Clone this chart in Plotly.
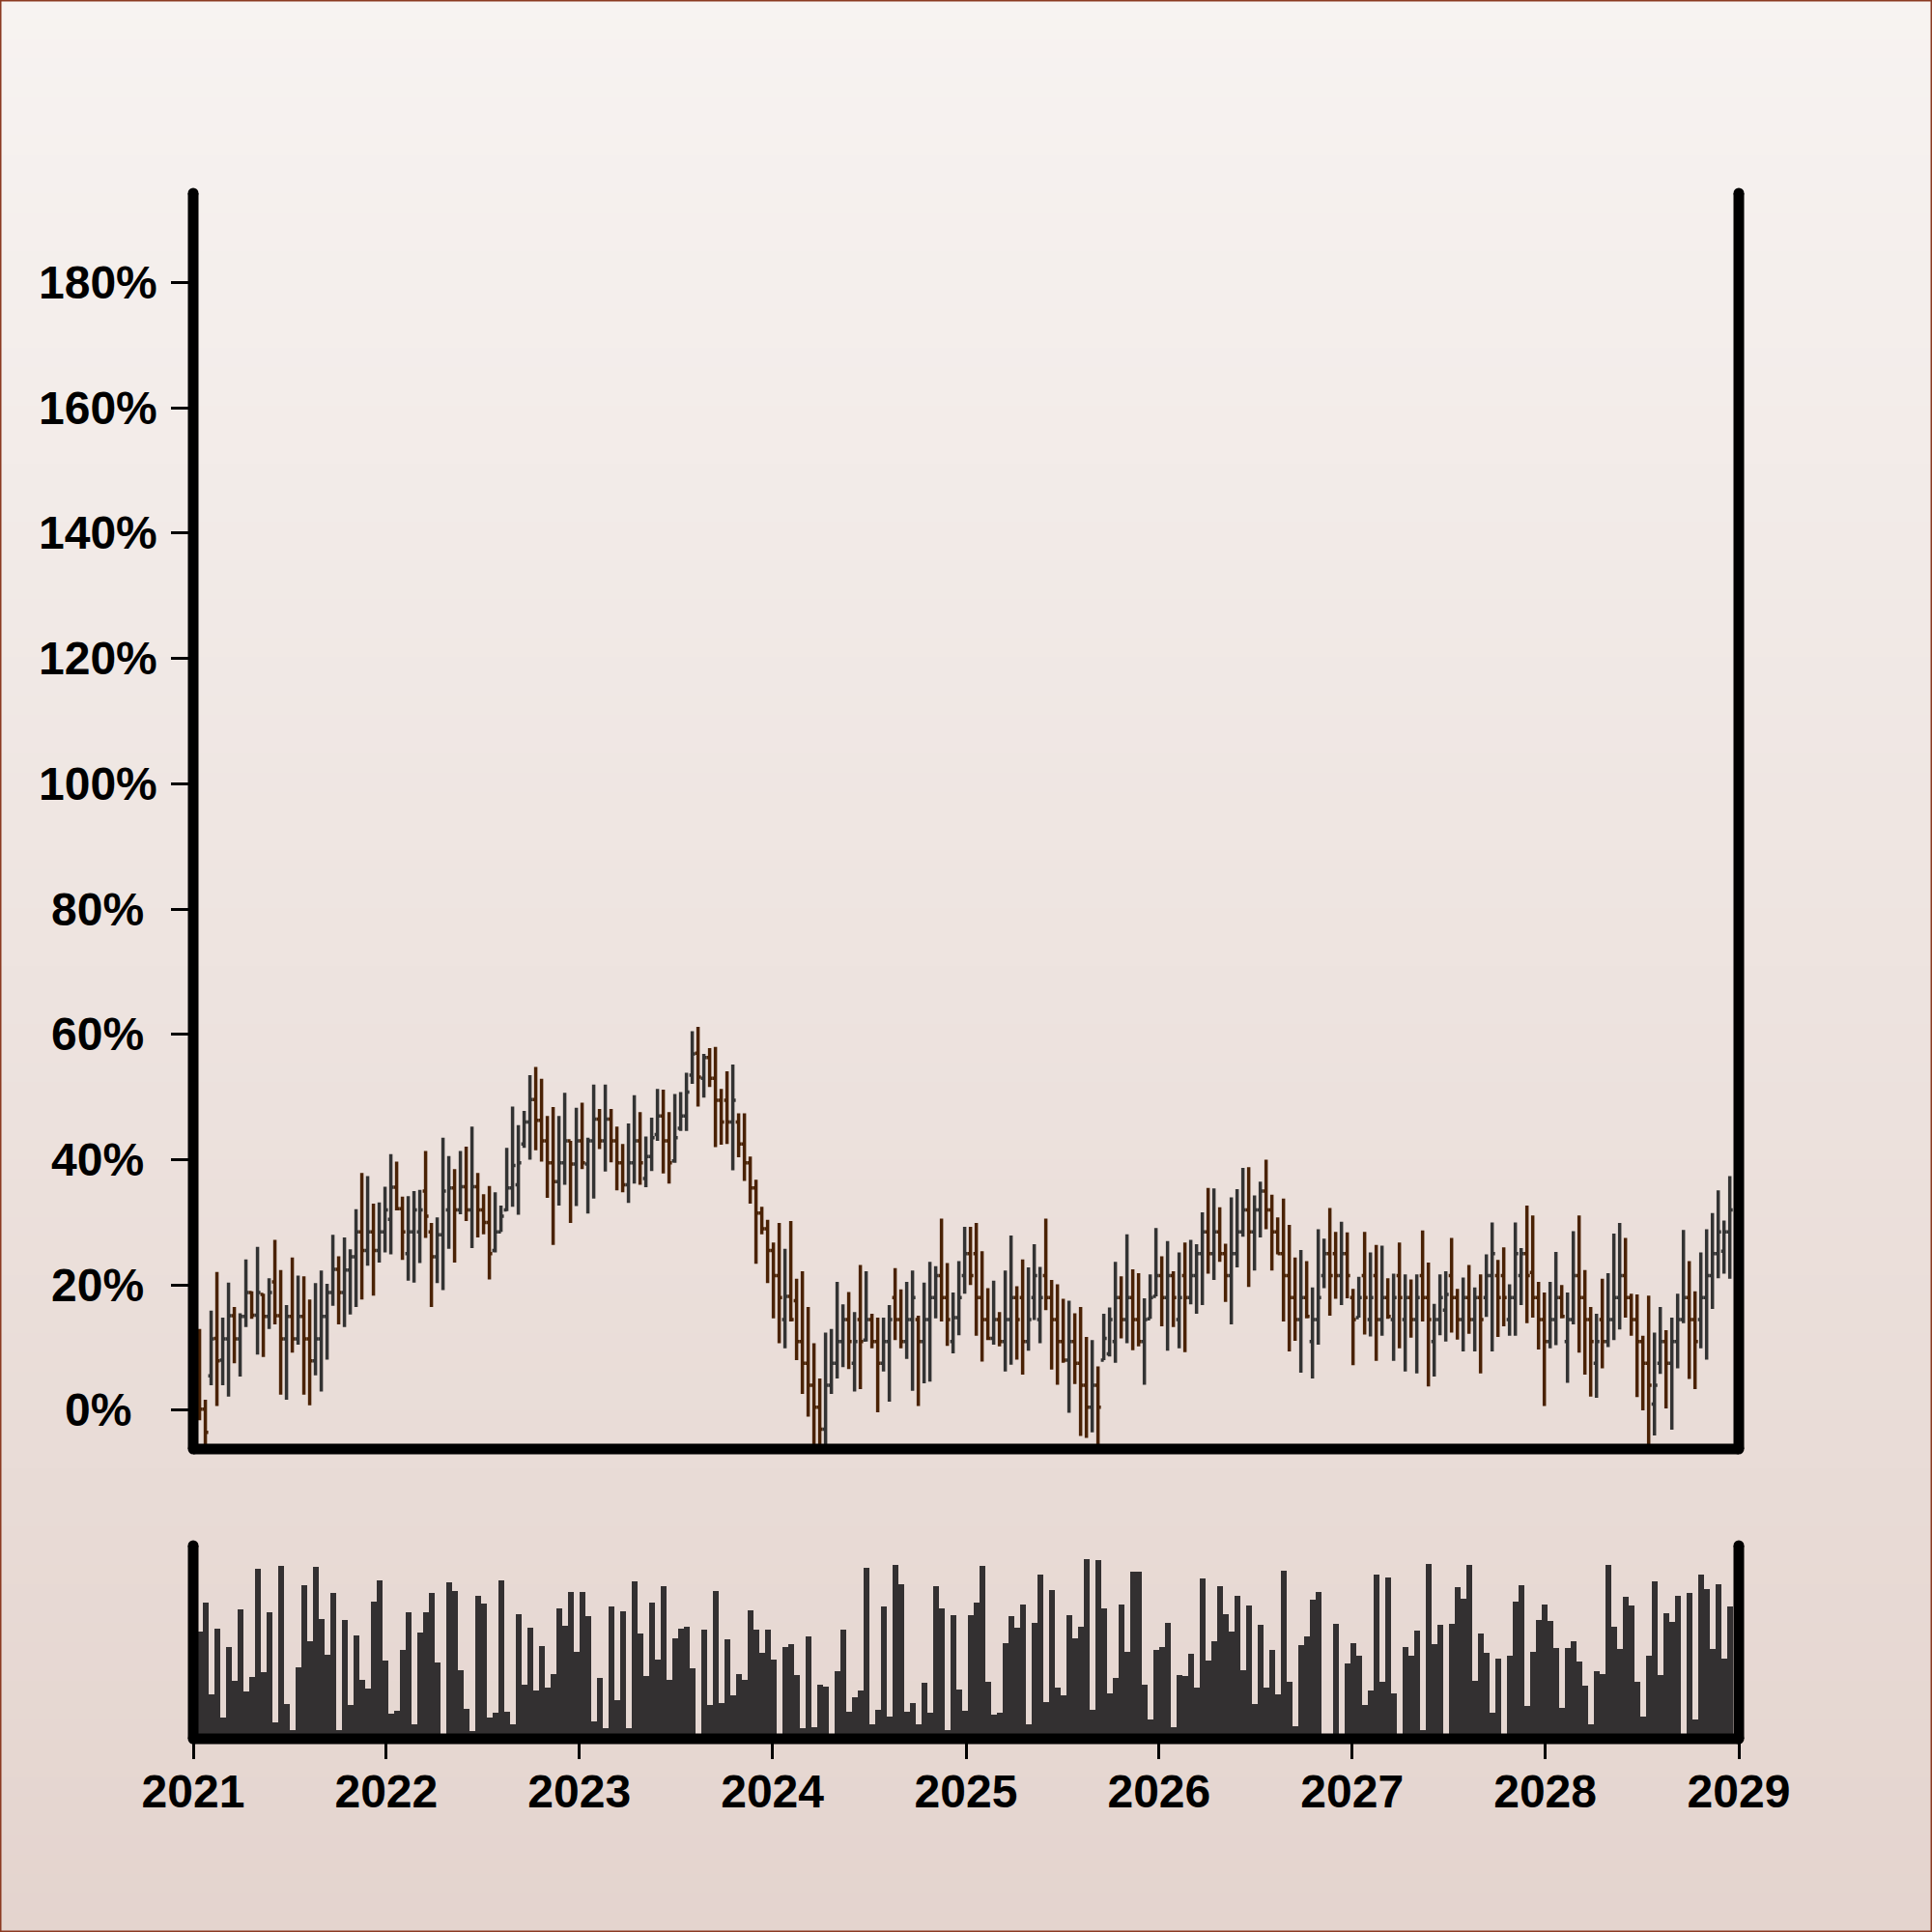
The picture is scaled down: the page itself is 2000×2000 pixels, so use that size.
import plotly.graph_objects as go
import pandas as pd

# ---------------- data ----------------
N_BARS = 265
dates = pd.date_range("2021-01-13", "2028-12-15", periods=N_BARS)

open_pct = [10.5, 0.2, 5.5, 11.5, 8.0, 11.4, 15.1, 11.4, 15.0, 18.8,
            15.2, 18.5, 15.0, 20.5, 15.1, 11.4, 15.0, 11.4, 15.0, 11.4,
            7.9, 11.4, 15.0, 18.8, 22.5, 18.8, 22.4, 24.5, 28.5, 25.5,
            28.5, 25.5, 28.5, 30.5, 35.6, 32.2, 25.0, 28.5, 28.5, 35.0,
            28.5, 24.5, 28.0, 32.0, 35.5, 32.0, 35.7, 32.0, 35.7, 32.0,
            30.0, 25.5, 28.5, 32.0, 35.5, 36.0, 42.5, 46.0, 49.6, 46.3,
            43.0, 39.5, 36.5, 39.5, 43.0, 39.3, 43.0, 39.3, 43.0, 46.5,
            43.0, 46.5, 43.0, 39.5, 36.0, 39.5, 43.0, 37.0, 40.5, 44.0,
            47.0, 43.0, 39.8, 45.0, 47.0, 53.5, 57.0, 53.0, 56.3, 53.0,
            49.5, 49.5, 46.0, 46.0, 42.5, 39.5, 35.5, 31.5, 29.0, 25.5,
            21.5, 14.5, 18.2, 17.5, 11.0, 7.5, 4.0, 0.5, -3.0, 4.0,
            7.5, 11.0, 14.5, 7.5, 14.5, 11.2, 14.5, 11.0, 7.5, 11.0,
            18.0, 14.5, 11.0, 14.5, 14.5, 11.0, 14.5, 18.0, 21.5, 18.0,
            11.0, 14.8, 21.5, 25.0, 25.0, 18.0, 14.5, 11.5, 14.5, 11.0,
            14.5, 18.0, 18.0, 11.0, 18.0, 14.5, 21.5, 18.0, 14.5, 11.0,
            8.0, 11.0, 7.5, 4.0, 0.5, 4.0, 8.0, 9.0, 11.0, 18.0,
            14.5, 18.0, 14.5, 11.0, 14.6, 18.2, 21.5, 18.0, 21.5, 14.5,
            21.5, 18.0, 21.5, 25.0, 28.5, 25.0, 28.5, 25.0, 21.5, 25.0,
            28.5, 32.0, 28.5, 32.0, 35.0, 32.0, 28.5, 25.0, 21.5, 18.0,
            14.5, 18.0, 11.0, 14.5, 21.5, 25.0, 25.0, 21.5, 25.0, 18.0,
            14.8, 21.5, 14.5, 21.5, 14.5, 18.0, 14.5, 21.5, 14.5, 18.0,
            14.5, 21.5, 18.0, 11.0, 14.5, 16.0, 21.5, 18.0, 14.5, 18.0,
            14.5, 18.0, 18.0, 21.5, 21.5, 21.5, 14.5, 18.0, 21.5, 25.0,
            22.0, 18.0, 14.5, 11.0, 14.5, 18.0, 11.0, 14.5, 21.5, 18.0,
            14.5, 7.5, 14.5, 11.0, 14.5, 18.0, 21.5, 18.0, 14.5, 11.0,
            7.5, 1.0, 7.5, 11.0, 7.5, 11.0, 14.5, 18.0, 14.5, 14.5,
            18.0, 21.5, 25.0, 25.4, 28.5]

high_pct = [13.0, 1.7, 15.9, 22.1, 14.8, 20.4, 16.5, 15.5, 24.1, 19.0,
            26.1, 18.6, 21.1, 27.2, 22.4, 16.8, 24.4, 21.5, 21.4, 17.7,
            20.3, 22.3, 20.2, 28.0, 24.6, 27.6, 25.7, 32.1, 37.9, 37.4,
            33.0, 33.2, 35.7, 40.9, 39.7, 34.1, 34.2, 35.0, 35.2, 41.4,
            29.9, 30.8, 43.5, 40.6, 38.5, 41.4, 42.1, 45.3, 37.9, 34.5,
            35.8, 34.8, 32.7, 41.9, 48.5, 45.5, 47.8, 53.5, 54.8, 52.9,
            47.0, 48.4, 47.0, 50.7, 43.0, 48.3, 49.1, 43.5, 52.0, 48.1,
            52.0, 48.1, 45.3, 42.5, 45.8, 50.3, 47.6, 43.7, 46.7, 51.3,
            51.2, 47.6, 50.5, 50.8, 53.9, 60.5, 61.2, 56.9, 57.8, 58.0,
            51.3, 54.1, 55.2, 47.4, 47.4, 40.5, 36.8, 32.5, 30.4, 26.8,
            29.9, 25.8, 30.2, 21.0, 22.2, 16.5, 10.7, 5.1, 12.4, 13.0,
            20.5, 16.9, 18.9, 15.7, 23.2, 22.2, 15.4, 14.8, 14.8, 16.8,
            22.7, 19.3, 20.5, 22.3, 15.1, 20.4, 23.7, 23.0, 30.6, 23.5,
            18.8, 23.8, 29.3, 29.3, 29.9, 25.4, 19.5, 20.7, 15.7, 22.3,
            27.9, 19.8, 24.1, 22.8, 26.5, 22.9, 30.6, 20.8, 20.1, 17.8,
            17.5, 15.5, 16.5, 11.7, 11.2, 7.0, 15.4, 16.4, 23.7, 21.4,
            28.1, 22.5, 21.9, 17.9, 21.7, 29.1, 24.6, 27.0, 22.2, 25.2,
            26.8, 27.2, 26.5, 31.6, 35.5, 35.4, 32.4, 26.6, 34.0, 35.3,
            38.7, 38.8, 34.3, 36.5, 40.0, 34.4, 30.8, 33.8, 29.6, 24.4,
            25.6, 23.8, 19.6, 28.9, 27.4, 32.3, 28.5, 30.1, 28.4, 19.4,
            21.3, 28.5, 25.2, 26.4, 26.3, 21.1, 21.8, 26.8, 21.7, 20.9,
            21.7, 28.7, 23.6, 17.0, 21.7, 22.2, 27.5, 19.4, 21.2, 23.2,
            19.6, 21.7, 24.9, 30.0, 24.0, 26.0, 20.1, 30.0, 25.9, 32.7,
            31.1, 20.5, 18.8, 20.5, 25.3, 20.0, 18.8, 28.6, 31.1, 22.4,
            16.5, 15.4, 21.0, 21.9, 28.2, 29.9, 27.5, 18.6, 18.5, 11.9,
            18.3, 12.4, 16.5, 12.8, 14.8, 18.6, 28.8, 23.8, 19.0, 25.2,
            28.9, 31.5, 35.1, 30.3, 37.4]

low_pct = [-1.6, -6.5, 4.0, 0.7, 4.0, 2.2, 7.5, 5.4, 13.3, 14.6,
           8.9, 8.5, 13.0, 13.7, 2.5, 1.7, 9.2, 10.5, 2.5, 0.8,
           5.6, 3.0, 8.1, 16.7, 13.7, 13.3, 15.3, 16.5, 17.7, 23.1,
           18.3, 23.6, 25.2, 24.9, 31.9, 24.0, 20.7, 20.4, 23.5, 27.5,
           16.5, 20.3, 19.2, 25.8, 23.6, 31.3, 30.2, 25.9, 27.6, 28.1,
           20.9, 25.2, 28.5, 31.8, 32.5, 31.2, 41.9, 40.0, 41.5, 39.7,
           33.9, 26.4, 32.7, 36.0, 29.9, 32.6, 38.5, 31.4, 33.8, 41.7,
           38.1, 39.6, 35.1, 34.8, 33.1, 36.2, 36.0, 35.6, 38.2, 43.0,
           37.8, 36.2, 39.5, 44.6, 44.6, 52.1, 48.5, 49.9, 51.6, 42.0,
           42.4, 42.5, 38.3, 40.4, 36.6, 33.0, 23.4, 28.1, 20.3, 14.7,
           10.7, 9.9, 14.2, 8.0, 2.6, -1.0, -7.0, -7.5, -5.5, 2.6,
           5.1, 6.9, 6.6, 3.0, 3.4, 11.0, 9.9, -0.3, 6.2, 1.4,
           11.2, 9.9, 8.2, 3.1, 0.7, 4.3, 4.6, 14.7, 14.2, 10.3,
           9.1, 12.0, 18.6, 20.0, 11.9, 7.8, 11.2, 10.5, 10.2, 6.2,
           7.3, 8.1, 5.7, 9.5, 14.4, 10.7, 16.0, 6.5, 4.1, 7.6,
           -0.4, 4.2, -4.1, -4.4, -3.5, -7.0, 8.0, 8.6, 7.6, 11.5,
           10.7, 9.6, 10.2, 4.1, 14.6, 18.2, 13.4, 9.5, 13.3, 9.9,
           9.3, 16.9, 15.4, 16.8, 21.8, 20.8, 23.7, 17.3, 13.7, 22.8,
           27.7, 19.7, 22.3, 27.6, 28.9, 22.3, 24.9, 14.2, 9.4, 11.1,
           6.0, 14.7, 5.1, 10.5, 19.5, 15.1, 17.8, 16.8, 17.9, 7.2,
           14.8, 12.1, 11.8, 7.9, 11.9, 14.6, 7.9, 9.9, 6.2, 11.6,
           5.9, 14.2, 3.8, 5.4, 12.0, 11.0, 12.4, 11.3, 9.4, 12.2,
           9.4, 5.9, 14.9, 9.4, 11.7, 13.4, 11.9, 11.9, 16.8, 13.9,
           14.8, 9.7, 0.7, 9.9, 10.4, 14.7, 4.4, 13.7, 9.2, 5.7,
           2.2, 2.0, 6.7, 10.1, 11.2, 12.9, 14.8, 11.9, 2.1, 0.0,
           -6.5, -4.0, 5.8, 0.3, -3.1, 6.7, 13.9, 5.0, 3.4, 9.9,
           8.1, 16.2, 21.1, 21.8, 21.0]

close_pct = [0.2, -3.5, 11.4, 7.9, 11.4, 15.1, 11.4, 15.0, 18.8, 15.2,
             18.8, 15.0, 18.8, 15.1, 11.4, 15.0, 11.4, 15.0, 11.4, 7.9,
             11.4, 15.0, 18.8, 22.5, 18.8, 22.4, 24.5, 28.5, 25.5, 28.5,
             25.5, 28.5, 32.0, 35.6, 32.2, 28.5, 28.5, 32.0, 32.0, 31.0,
             24.5, 28.0, 35.0, 35.5, 32.0, 35.7, 32.0, 35.7, 32.0, 30.0,
             25.0, 28.5, 31.0, 35.5, 39.1, 39.5, 46.0, 49.6, 46.3, 43.0,
             39.5, 36.5, 39.5, 43.0, 39.3, 43.0, 39.5, 43.0, 46.5, 43.0,
             46.5, 43.0, 39.5, 36.0, 39.5, 43.0, 39.5, 40.5, 43.5, 47.0,
             43.0, 39.5, 43.5, 47.0, 50.8, 56.9, 53.2, 56.3, 53.0, 49.5,
             46.0, 46.0, 49.5, 42.5, 39.5, 35.5, 31.5, 29.0, 25.5, 21.5,
             18.0, 18.2, 14.5, 11.0, 7.5, 4.0, 0.5, -3.0, 4.0, 7.5,
             11.0, 14.5, 11.0, 11.0, 11.0, 14.5, 11.0, 7.5, 11.0, 14.5,
             14.5, 11.0, 14.5, 18.0, 11.0, 14.5, 18.0, 21.5, 18.0, 14.5,
             14.8, 18.0, 25.0, 21.5, 18.0, 14.5, 11.5, 14.5, 11.0, 14.5,
             18.0, 14.5, 11.0, 14.5, 21.5, 18.0, 18.0, 14.5, 11.0, 8.0,
             11.0, 7.5, 4.0, 0.5, 4.0, 0.5, 11.5, 14.5, 18.0, 14.5,
             18.0, 14.5, 11.0, 14.5, 18.0, 21.5, 18.0, 21.5, 18.0, 18.0,
             18.0, 21.5, 25.0, 28.5, 25.0, 28.5, 25.0, 21.5, 25.0, 28.5,
             32.0, 28.5, 32.0, 35.0, 32.0, 28.5, 25.0, 21.5, 18.0, 14.5,
             18.0, 15.0, 14.5, 18.0, 25.0, 21.5, 21.5, 25.0, 21.5, 14.5,
             18.0, 18.0, 18.0, 14.5, 18.0, 15.0, 18.0, 18.0, 18.0, 14.5,
             18.0, 18.0, 14.5, 14.5, 18.0, 18.5, 18.0, 14.5, 18.0, 14.5,
             18.0, 14.5, 21.5, 25.0, 18.0, 18.0, 18.0, 25.0, 25.0, 21.5,
             18.0, 14.5, 11.0, 14.5, 18.0, 15.0, 14.5, 21.5, 18.0, 14.5,
             11.0, 11.0, 11.0, 14.5, 18.0, 21.5, 18.0, 14.5, 11.0, 7.5,
             4.0, 4.0, 11.0, 7.5, 11.0, 14.5, 18.0, 14.5, 11.0, 18.0,
             21.5, 25.0, 28.5, 28.5, 32.0]

volume = [111, 141, 46, 114, 22, 95, 60, 134, 49, 64,
          176, 69, 131, 17, 179, 36, 9, 74, 159, 101,
          178, 124, 87, 151, 9, 123, 35, 107, 61, 52,
          142, 164, 81, 26, 29, 92, 131, 15, 110, 131,
          151, 79, 1, 162, 153, 71, 31, 8, 148, 140,
          22, 27, 164, 28, 15, 129, 56, 115, 50, 96,
          53, 67, 135, 117, 152, 90, 152, 127, 18, 63,
          11, 137, 40, 132, 11, 163, 109, 65, 141, 82,
          158, 61, 104, 114, 116, 73, 1, 113, 35, 153,
          37, 103, 45, 67, 61, 133, 113, 89, 113, 82,
          1, 95, 98, 66, 11, 106, 12, 56, 54, 1,
          70, 113, 28, 43, 50, 177, 15, 30, 137, 23,
          180, 160, 28, 37, 15, 58, 27, 158, 135, 9,
          128, 51, 29, 128, 141, 179, 59, 25, 27, 99,
          127, 115, 139, 15, 120, 170, 38, 154, 53, 45,
          128, 104, 116, 186, 30, 185, 135, 47, 63, 139,
          90, 173, 173, 56, 20, 92, 95, 120, 12, 66,
          65, 88, 53, 166, 81, 101, 158, 129, 111, 148,
          71, 138, 36, 118, 53, 92, 46, 174, 59, 13,
          97, 106, 144, 152, 1, 1, 119, 1, 78, 99,
          86, 35, 50, 170, 59, 167, 47, 1, 95, 86,
          112, 9, 181, 98, 118, 1, 119, 157, 145, 180,
          60, 109, 89, 27, 83, 1, 86, 142, 159, 34,
          90, 123, 139, 122, 94, 32, 94, 101, 80, 55,
          15, 70, 67, 180, 116, 93, 147, 138, 59, 23,
          86, 163, 66, 130, 121, 148, 1, 151, 20, 170,
          155, 93, 160, 83, 137]

y_ticks = [0, 20, 40, 60, 80, 100, 120, 140, 160, 180]
year_ticks = ["2021", "2022", "2023", "2024", "2025", "2026", "2027", "2028", "2029"]

# ---------------- styling ----------------
W = H = 2000
INK = "black"
UP = "#333333"
DOWN = "#4a2205"
VOL = "#333031"
FONT = "Liberation Sans, Arial, Helvetica, sans-serif"


def fx(px):
    return px / W


def fy(py):
    return 1 - py / H


fig = go.Figure()
fig.add_trace(go.Ohlc(
    x=dates,
    open=[v / 100 for v in open_pct],
    high=[v / 100 for v in high_pct],
    low=[v / 100 for v in low_pct],
    close=[v / 100 for v in close_pct],
    xaxis="x", yaxis="y",
    increasing=dict(line=dict(color=UP, width=3.5)),
    decreasing=dict(line=dict(color=DOWN, width=3.5)),
    tickwidth=0.5,
    showlegend=False,
))
fig.add_trace(go.Bar(
    x=dates, y=volume, xaxis="x2", yaxis="y2",
    marker=dict(color=VOL, line=dict(width=0)),
    showlegend=False,
))

shapes = []
# background gradient
top_rgb = (247, 243, 241)
bot_rgb = (228, 212, 206)
n_strips = 100
for i in range(n_strips):
    t = (i + 0.5) / n_strips
    c = tuple(round(a + (b - a) * t) for a, b in zip(top_rgb, bot_rgb))
    shapes.append(dict(type="rect", xref="paper", yref="paper", layer="below",
                       x0=0, x1=1, y0=fy((i + 1) * H / n_strips + 1), y1=fy(i * H / n_strips),
                       fillcolor="rgb(%d,%d,%d)" % c, line=dict(width=0)))

SPW = 11
def spine(x0, y0, x1, y1):
    shapes.append(dict(type="line", xref="paper", yref="paper", layer="above",
                       x0=fx(x0), y0=fy(y0), x1=fx(x1), y1=fy(y1),
                       line=dict(color=INK, width=SPW)))

def cap(cx, cy):
    r = SPW / 2
    shapes.append(dict(type="circle", xref="paper", yref="paper", layer="above",
                       x0=fx(cx - r), x1=fx(cx + r), y0=fy(cy + r), y1=fy(cy - r),
                       fillcolor=INK, line=dict(width=0)))

for (top, bot) in [(200, 1500), (1600, 1800)]:
    spine(200, top, 200, bot)
    spine(1800, top, 1800, bot)
    spine(200, bot, 1800, bot)
    for p in [(200, top), (1800, top), (200, bot), (1800, bot)]:
        cap(*p)

# thin frame around the figure
shapes.append(dict(type="rect", xref="paper", yref="paper", layer="above",
                   x0=0, x1=1, y0=0, y1=1, line=dict(color="#8b3a22", width=3)))

annotations = []
for v in y_ticks:
    annotations.append(dict(xref="paper", yref="y", x=fx(101), y=v / 100,
                            text="%d%%" % v, showarrow=False, xanchor="center", yanchor="middle",
                            font=dict(family=FONT, size=48, color=INK, weight="bold")))

x_range = ["2021-01-01", "2029-01-01"]
fig.update_layout(
    width=W, height=H,
    margin=dict(l=0, r=0, t=0, b=0, pad=0),
    paper_bgcolor="rgb(247,243,241)",
    plot_bgcolor="rgba(0,0,0,0)",
    showlegend=False,
    bargap=0,
    font=dict(family=FONT, size=48, color=INK, weight="bold"),
    xaxis=dict(domain=[0.1, 0.9], anchor="y", type="date", range=x_range,
               showticklabels=False, ticks="", showgrid=False, zeroline=False,
               showline=False, rangeslider=dict(visible=False)),
    yaxis=dict(domain=[0.25, 0.9], anchor="x", range=[-0.0617, 1.9426],
               tickvals=[v / 100 for v in y_ticks], showticklabels=False,
               ticks="outside", ticklen=22, tickwidth=3, tickcolor=INK,
               showgrid=False, zeroline=False, showline=False),
    xaxis2=dict(domain=[0.1, 0.9], anchor="y2", type="date", range=x_range,
                tickvals=[y + "-01-01" for y in year_ticks], ticktext=year_ticks,
                ticks="outside", ticklen=20, tickwidth=3, tickcolor=INK,
                tickfont=dict(family=FONT, size=48, color=INK, weight="bold"),
                ticklabelstandoff=-8,
                showgrid=False, zeroline=False, showline=False, automargin=False),
    yaxis2=dict(domain=[0.1, 0.2], anchor="x2", range=[0, 200],
                showticklabels=False, ticks="", showgrid=False, zeroline=False,
                showline=False),
    shapes=shapes,
    annotations=annotations,
)

fig.write_html("out.html", config={"displayModeBar": False},
               post_script="document.body.style.margin='0';document.body.style.overflow='hidden';")
